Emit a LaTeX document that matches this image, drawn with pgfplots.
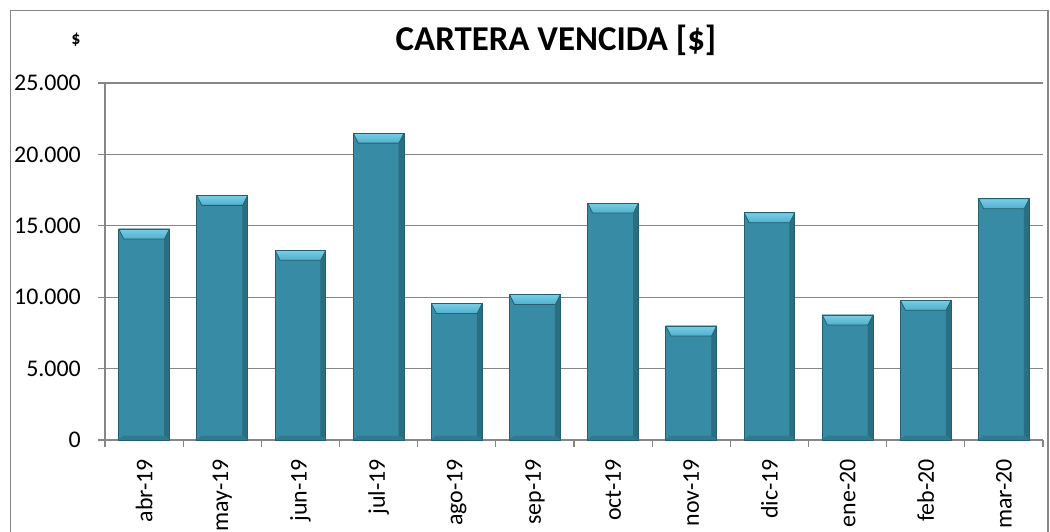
\documentclass[border=0pt]{standalone}
\usepackage{fontspec}
\setmainfont{Carlito}
\usepackage{pgfplots}
\pgfplotsset{compat=1.18}

\definecolor{barmain}{RGB}{56,139,164}
\definecolor{bartop}{RGB}{120,206,230}
\definecolor{barlight}{RGB}{80,175,203}
\definecolor{barside}{RGB}{42,110,130}
\definecolor{bardark}{RGB}{36,96,114}
\definecolor{gridgray}{RGB}{134,134,134}

\pgfplotsset{
  bevelbar/.style={ybar, bar shift=0pt, bar width=0.65, fill=barmain, draw=bardark, line width=0.8bp,
    path picture={
      \fill[barside, path picture={}] ([xshift=-5bp,yshift=-10bp]path picture bounding box.north east)
        -- (path picture bounding box.north east) -- (path picture bounding box.south east)
        -- ([xshift=-5bp,yshift=4bp]path picture bounding box.south east) -- cycle;
      \fill[barside!60!barmain, path picture={}] ([xshift=5bp,yshift=4bp]path picture bounding box.south west)
        -- (path picture bounding box.south west) -- (path picture bounding box.south east)
        -- ([xshift=-5bp,yshift=4bp]path picture bounding box.south east) -- cycle;
      \shade[top color=bartop, bottom color=barlight, path picture={}] (path picture bounding box.north west)
        -- (path picture bounding box.north east)
        -- ([xshift=-5bp,yshift=-10bp]path picture bounding box.north east)
        -- ([xshift=5bp,yshift=-10bp]path picture bounding box.north west) -- cycle;
    }},
}

\begin{document}
\begin{tikzpicture}[x=1bp,y=-1bp]
\useasboundingbox (0,0) rectangle (1050,532);
\draw[gridgray, line width=1.5bp] (10.5,560) -- (10.5,10.5) -- (1048,10.5) -- (1048,560);
\node[font=\fontsize{18}{20}\selectfont\bfseries] at (76,40) {\$};
\node[font=\fontsize{35}{40}\selectfont\bfseries] at (556,40) {CARTERA VENCIDA [\$]};

\begin{axis}[
  at={(105bp,-440bp)}, anchor=south west,
  scale only axis, width=938bp, height=357bp,
  xmin=-0.5, xmax=11.5, ymin=0, ymax=25000,
  axis x line*=bottom, axis y line*=left,
  axis line style={gridgray, line width=1.2bp},
  ymajorgrids, major grid style={gridgray, line width=1.2bp},
  ytick={0,5000,...,25000},
  xtick={0,...,11},
  xticklabels={abr-19,may-19,jun-19,jul-19,ago-19,sep-19,oct-19,nov-19,dic-19,ene-20,feb-20,mar-20},
  minor xtick={-0.5,0.5,...,11.5},
  tick align=outside,
  major tick length=7bp, minor tick length=7bp,
  major x tick style={draw=none},
  minor x tick style={gridgray, line width=1.2bp},
  major y tick style={gridgray, line width=1.2bp},
  scaled y ticks=false,
  /pgf/number format/.cd, fixed, 1000 sep={.}, assume math mode=true,
  /pgfplots/.cd,
  tick label style={font=\fontsize{24}{28}\selectfont},
  xticklabel style={rotate=90, anchor=east, inner sep=0pt},
  xticklabel shift=12bp,
  yticklabel style={anchor=east, inner sep=0pt},
  yticklabel shift=17bp,
]
\addplot[bevelbar] coordinates {(0,14780)};
\addplot[bevelbar] coordinates {(1,17130)};
\addplot[bevelbar] coordinates {(2,13290)};
\addplot[bevelbar] coordinates {(3,21490)};
\addplot[bevelbar] coordinates {(4,9560)};
\addplot[bevelbar] coordinates {(5,10190)};
\addplot[bevelbar] coordinates {(6,16590)};
\addplot[bevelbar] coordinates {(7,7990)};
\addplot[bevelbar] coordinates {(8,15920)};
\addplot[bevelbar] coordinates {(9,8760)};
\addplot[bevelbar] coordinates {(10,9790)};
\addplot[bevelbar] coordinates {(11,16900)};
\end{axis}
\end{tikzpicture}
\end{document}
